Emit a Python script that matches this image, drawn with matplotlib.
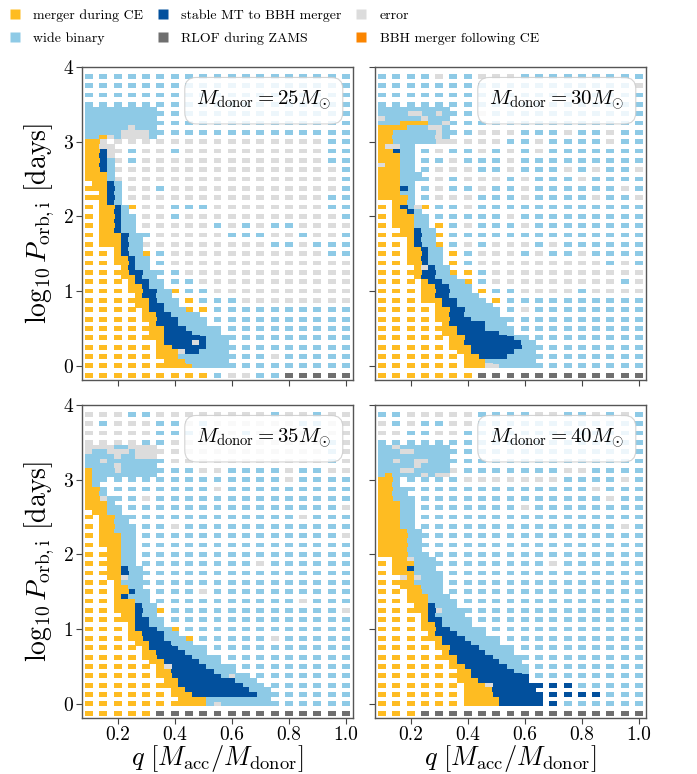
import matplotlib
matplotlib.use("Agg")
import matplotlib.pyplot as plt
from matplotlib.lines import Line2D
from matplotlib.patches import Rectangle
from matplotlib.collections import PatchCollection

plt.rcParams['font.family'] = 'serif'
plt.rcParams['font.serif'] = ['cmr10']
plt.rcParams['mathtext.fontset'] = 'cm'
plt.rcParams['axes.formatter.use_mathtext'] = True

# ---------------- grid definition ----------------
Q_MIN = 0.1            # first mass-ratio column
Q_STEP = 0.025         # fine q step (coarse = 2 * fine)
L_COARSE_TOP = 3.875   # top coarse log10 P row
L_FINE_TOP = 3.4375    # top fine log10 P row
L_STEP = 0.0625        # fine log10 P step (coarse = 2 * fine)

categories = ['y', 'b', 'd', 'r', 'g', 'o']
category_labels = ['merger during CE', 'wide binary', 'stable MT to BBH merger',
                   'RLOF during ZAMS', 'error', 'BBH merger following CE']
category_colors = {'y': '#FEBC22', 'b': '#8ECAE6', 'd': '#02509D',
                   'g': '#DCDCDC', 'r': '#6F6F6F', 'o': '#FB8500'}

donor_masses = [25, 30, 35, 40]

# coarse grid: rows from logP=3.875 down to -0.125 (step 0.125), columns q=0.1..1.0 (step 0.05)
# fine grid: rows from logP=3.4375 down to 0.0 (step 0.0625), columns q=0.1.. (step 0.025); '.' = none
p25_coarse = [
    "bbbbbbbbbbbbbbbbbbb",  # 3.875
    "bbbbbbbbbbbbbbbbbbb",  # 3.75
    "bbbbbbbbbbbbbbbbbbb",  # 3.625
    "bbbbbbbbbbbbbbbbbbb",  # 3.5
    "bbbbbbbbbbbbbbbbbbb",  # 3.375
    "bbbbbbbbbbbbbbbbbbb",  # 3.25
    "bbbbbbbbbbbbbbbbbbb",  # 3.125
    "yygggggggggggggggbb",  # 3.0
    "yygbggbggggggggggbb",  # 2.875
    "yygbgggggggggggggbb",  # 2.75
    "yyggggggggggggggggb",  # 2.625
    "yyggggggggggggggggb",  # 2.5
    "yyyggbggggggggggggb",  # 2.375
    "yyyggggggggggggggbb",  # 2.25
    "yyyyggbbbggggggggbb",  # 2.125
    "yyyyggbgggggggggggb",  # 2.0
    "yyyygggggbgbgbbgggg",  # 1.875
    "yyyybgggggbbbggbggb",  # 1.75
    "yyyygggggggggbbgbbb",  # 1.625
    "yyyyybgggggggggggbb",  # 1.5
    "yyyyybggggggggggggg",  # 1.375
    "yyyyybbgggggggggggg",  # 1.25
    "yyyyyybbggggggggggg",  # 1.125
    "yyyyyyybbgggggggggg",  # 1.0
    "yyyyyyyybbbgggggggg",  # 0.875
    "yyyyyyyyybbbbbbbbbb",  # 0.75
    "yyyyyyyyybbbbbbbbbb",  # 0.625
    "yyyyyyyyybbbbbbbbbb",  # 0.5
    "yyyyyyyyybbbbbbbbbb",  # 0.375
    "yyyyyyyyybbbbbbbbbb",  # 0.25
    "yyyyyyyyybbbbgbbbbb",  # 0.125
    "yyyyyyyyybbbbbbbbbb",  # 0.0
    "yyyyyyyyybggbbrrrrr",  # -0.125
]
p25_fine = [
    "bbbbbbbbbb",            # 3.4375
    "bbbbbbbbbb",            # 3.375
    "bbbbbbbbbb",            # 3.3125
    "bbbbbbbbbb",            # 3.25
    "bbbbbbgbbb",            # 3.1875
    "bbbbbggggb",            # 3.125
    "bbygbggggb",            # 3.0625
    "yyg",                   # 3.0
    "yygg",                  # 2.9375
    "yydg",                  # 2.875
    "yydg",                  # 2.8125
    "yydb",                  # 2.75
    "yydb",                  # 2.6875
    "yydb",                  # 2.625
    "yyyb",                  # 2.5625
    ".yyb",                  # 2.5
    ".yydb",                 # 2.4375
    ".yydb",                 # 2.375
    "..ydb",                 # 2.3125
    ".yydb",                 # 2.25
    "..ydb",                 # 2.1875
    "..yydb",                # 2.125
    "..yydb",                # 2.0625
    "..yydbb",               # 2.0
    "..yydbb",               # 1.9375
    "..yydbb",               # 1.875
    "..yydbb",               # 1.8125
    "..yyydbb",              # 1.75
    "..yyydbb",              # 1.6875
    "...yydbb",              # 1.625
    "....ydbb",              # 1.5625
    "....ydbb",              # 1.5
    "....yydbb",             # 1.4375
    "....yydbb",             # 1.375
    ".....ydbb",             # 1.3125
    ".....yddbb",            # 1.25
    ".....yydbb",            # 1.1875
    "......yddbb",           # 1.125
    "......yydbb",           # 1.0625
    "......yyddbb",          # 1.0
    ".......yddbb",          # 0.9375
    ".......yydbbb",         # 0.875
    ".......yyddbb",         # 0.8125
    "........yddbbb",        # 0.75
    "........yyddbbbb",      # 0.6875
    "........yydddbbbb",     # 0.625
    ".........ydddbbbb",     # 0.5625
    ".........yydddbbbbb",   # 0.5
    ".........yyddddbbbb",   # 0.4375
    ".........yyddddddbbb",  # 0.375
    "..........yddddgdbbb",  # 0.3125
    "..........yydddddbbb",  # 0.25
    "..........yyygddbbbb",  # 0.1875
    "..........yyybbbbbbb",  # 0.125
    "...........yyybbbbbb",  # 0.0625
    "..........yyyyybbbbb",  # 0.0
]

p30_coarse = [
    "bbbbgbbgggbbbbbbbbb",  # 3.875
    "bbbbbbbbbbbbbbbbbbg",  # 3.75
    "bbbbbbbbbbbbbbbbbbb",  # 3.625
    "bbbbbbbbbbbbbbbbbbb",  # 3.5
    "bbbbbbbgbbbbbbbbbbb",  # 3.375
    "bbbbbbbbbbbbbbbbbbb",  # 3.25
    "yybbbbbgggbbbgbbgbb",  # 3.125
    "yyyybbgggbbgbbbbgbb",  # 3.0
    "yyybgbbgbgbgbbbbbbb",  # 2.875
    "yyybbgbbbgbbbbbbbbb",  # 2.75
    "yyybgggbbgbbbgbgbbg",  # 2.625
    "yyybgbgggbgbbbgbbbb",  # 2.5
    "yyybgbbgbbgbbbbbbgb",  # 2.375
    "yyybgggbbbgbbbbgbbg",  # 2.25
    "yyyybbgbbbbbbbbbbbb",  # 2.125
    "yyyybbbbbgbbbbbbbbb",  # 2.0
    "yyyyybgbbbgbbbbbbbb",  # 1.875
    "yyyyybbbbbbbbbbbbbb",  # 1.75
    "yyyyybgbgggbgbbbbbb",  # 1.625
    "yyyyyybgggbgbbgbbbb",  # 1.5
    "yyyyyybgggggggggbgb",  # 1.375
    "yyyyyyybggggggggggg",  # 1.25
    "yyyyyyybgggggggggbg",  # 1.125
    "yyyyyyyybbggggbgggg",  # 1.0
    "yyyyyyyyybbbbbbbbbb",  # 0.875
    "yyyyyyyybbgbbbbbbbb",  # 0.75
    "yyyyyyyyybbbbbbbbbb",  # 0.625
    "yyyyyyyyybbbbbbbbbb",  # 0.5
    "yyyyyyyyybbbbbbbbbb",  # 0.375
    "yyyyyyyyybbbbbbbbbb",  # 0.25
    "yyyyyyyyybbbbbbbbbb",  # 0.125
    "yyyyyyyybbbbbbbbbbb",  # 0.0
    "yyyyyyyrrrrrrrrrrrr",  # -0.125
]
p30_fine = [
    "bbbbbbbbbb",              # 3.4375
    "bbbbggbbgb",              # 3.375
    "gbbbbbgbbb",              # 3.3125
    "bbbyyyybbg",              # 3.25
    "yyyybbbggb",              # 3.1875
    "yybbbbbbgb",              # 3.125
    "yybbbbbbgb",              # 3.0625
    "yybbbbbbggg",             # 3.0
    "yggbb",                   # 2.9375
    "yydbb",                   # 2.875
    "yyybb",                   # 2.8125
    "yyybb",                   # 2.75
    "gyybb",                   # 2.6875
    "yyybb",                   # 2.625
    "yyybbb",                  # 2.5625
    ".yybbb",                  # 2.5
    "yyybb",                   # 2.4375
    ".yydb",                   # 2.375
    "yyybb",                   # 2.3125
    ".yyyb",                   # 2.25
    "..yyb",                   # 2.1875
    "..ydbg",                  # 2.125
    "..yydb",                  # 2.0625
    "..yyybb",                 # 2.0
    "..yyybb",                 # 1.9375
    "..yyybb",                 # 1.875
    "...yydbb",                # 1.8125
    "...yydbb",                # 1.75
    "....ydbb",                # 1.6875
    "....ydbb",                # 1.625
    "....yydbb",               # 1.5625
    "....yydbb",               # 1.5
    "....yydbb",               # 1.4375
    "....yydbb",               # 1.375
    ".....ygdbb",              # 1.3125
    ".....yddbb",              # 1.25
    ".....yddbbb",             # 1.1875
    "......yddbbb",            # 1.125
    "......yyddbbb",           # 1.0625
    "......yyddbbb",           # 1.0
    "......yyddbbbb",          # 0.9375
    ".......yyddbbbb",         # 0.875
    "........yddbbbbb",        # 0.8125
    "........yyddbbbb",        # 0.75
    "........yyddbbbbb",       # 0.6875
    "........yydddbbbbb",      # 0.625
    ".........ydddddbbb",      # 0.5625
    ".........yyddddbbbb",     # 0.5
    ".........yyddddddbb",     # 0.4375
    "..........yydddddddb",    # 0.375
    "..........yyddddddddbb",  # 0.3125
    "...........yydddddddbb",  # 0.25
    "...........yyddddddbbb",  # 0.1875
    "............yyddddbbbb",  # 0.125
    "............yyybbbbbbb",  # 0.0625
    "............yyyggbbbbb",  # 0.0
]

p35_coarse = [
    "gggbbggggggggbggbgg",  # 3.875
    "gbgggbbgbggggggbbgg",  # 3.75
    "gggggbbbgggbggggggg",  # 3.625
    "ggggbbgggggggggggbg",  # 3.5
    "gggggggggggggggggbg",  # 3.375
    "bbbbbbgggggggggggbg",  # 3.25
    "ybbbbbbbggbbbbgbbgg",  # 3.125
    "ybbbbbbbbbbbbbgbbbb",  # 3.0
    "ybbbbbbbbgbbbbbbbbb",  # 2.875
    "yybbgbbbbbbbbbbbbbb",  # 2.75
    "yybbbbbbbbbbbbbbbbg",  # 2.625
    "yybbbbbbbbbbbbbgbbb",  # 2.5
    "yybbbbgbbbbbbbbbbbb",  # 2.375
    "yyybbbbbbbbbbbbbbbg",  # 2.25
    "yyybbbbbbbbbbbbbbbb",  # 2.125
    "yyybbbbbbbbbbbbbbbb",  # 2.0
    "yyyybbbbbbbbgbbbbbb",  # 1.875
    "yyyybbbbbbbbbbbbbbb",  # 1.75
    "yyyybbbbbbbbbbbbbbb",  # 1.625
    "yyyyybbbgbbbbbbbbbb",  # 1.5
    "yyyyybbbbbbbbbbgbbb",  # 1.375
    "yyyyyybbbbbbbbbbbbg",  # 1.25
    "yyyyyybbbbbbbbbbbbb",  # 1.125
    "yyyyyyybbbbbbbbbbbb",  # 1.0
    "yyyyyyyybbbbbgbbbbb",  # 0.875
    "yyyyyyyybbbbbbbbbbb",  # 0.75
    "yyyyyyyyybbbbbbbbbb",  # 0.625
    "yyyyyyyyyybbbbbbbbb",  # 0.5
    "yyyyyyyyyybbbbbbbbb",  # 0.375
    "yyyyyyyyyyybbbbbbbb",  # 0.25
    "yyyyyyyyyyyybbbbbbb",  # 0.125
    "yyyyyyygbbbbbbbbbbb",  # 0.0
    "yyyyyrrrrrrrrrrrrrr",  # -0.125
]
p35_fine = [
    "ggggbbgggg",                  # 3.4375
    "gbbgggbggg",                  # 3.375
    "bbbbgbbggg",                  # 3.3125
    "bbgbbbbbbb",                  # 3.25
    "bbbbgbbbbb",                  # 3.1875
    "ybbbgbbbbb",                  # 3.125
    "ybbbbbbbbb",                  # 3.0625
    "yb",                          # 3.0
    "yb",                          # 2.9375
    "yyb",                         # 2.875
    "yyb",                         # 2.8125
    "yygb",                        # 2.75
    "yyyb",                        # 2.6875
    ".yybb",                       # 2.625
    ".yybb",                       # 2.5625
    "..yybb",                      # 2.5
    "..yybb",                      # 2.4375
    "..yybb",                      # 2.375
    "..yybbb",                     # 2.3125
    "..yyybb",                     # 2.25
    "..yyybb",                     # 2.1875
    "...yybb",                     # 2.125
    "...yybb",                     # 2.0625
    "...yybb",                     # 2.0
    "...yybb",                     # 1.9375
    "...yybb",                     # 1.875
    "...yydbb",                    # 1.8125
    "...yydbb",                    # 1.75
    "...yygbb",                    # 1.6875
    "....ybbb",                    # 1.625
    "....yybb",                    # 1.5625
    "....yydbb",                   # 1.5
    "....ydbbb",                   # 1.4375
    "....yyybb",                   # 1.375
    "....yyydbb",                  # 1.3125
    ".....yydbb",                  # 1.25
    ".....yydbb",                  # 1.1875
    ".....yyddbb",                 # 1.125
    "......yddbb",                 # 1.0625
    "......ydddbb",                # 1.0
    "......yydddbb",               # 0.9375
    ".......ydddbbb",              # 0.875
    ".......yydddbbb",             # 0.8125
    "........yddddbbb",            # 0.75
    "........yyddddbbb",           # 0.6875
    ".........ydddddbbb",          # 0.625
    ".........yydddddbbb",         # 0.5625
    "..........ygdddddbbb",        # 0.5
    "..........yyddddddbbb",       # 0.4375
    "...........ydddddddbgbb",     # 0.375
    "...........yyddddddddbbb",    # 0.3125
    "...........yydddddddddbbb",   # 0.25
    "............yydddddddddbbb",  # 0.1875
    "............yyydddddddddbb",  # 0.125
    ".............yyyybbbbbbbbb",  # 0.0625
    ".............yyyybgbbbbbbb",  # 0.0
]

p40_coarse = [
    "bbgggggbbbbggbbgbgb",  # 3.875
    "gbgbbggbbbbbbbbbbbb",  # 3.75
    "ggbbggbbbbbbbbbbbbb",  # 3.625
    "bbbbbbbbbbbbbbbbbbb",  # 3.5
    "bbbbbbbbbbbbbbbbbbb",  # 3.375
    "bbbbbbbbbbbbbbbbbbb",  # 3.25
    "bbbbbgbbbbbbbggbbbb",  # 3.125
    "yybbbbgggggggbbbbgb",  # 3.0
    "yybbbbbbbbbbbbbgbbb",  # 2.875
    "yybbbbbbbbbbbbbbgbb",  # 2.75
    "yybbbbbbbbgbbbbbbbb",  # 2.625
    "yybbbbbbbbbbbbbbbbb",  # 2.5
    "yybbbbbbbbbbbbbbbgb",  # 2.375
    "yyybbbbbbbbbbbbbbbb",  # 2.25
    "yyybbbbbbbbbbbbbbbb",  # 2.125
    "yyybbbbbbbbbbbbbbbb",  # 2.0
    "yyybbbbbbbbbgbbbbbb",  # 1.875
    "yyyybbbbbbbbbbbbbbb",  # 1.75
    "yyyybbbbbbbbbbbbbbb",  # 1.625
    "yyyyybbbbbbbbbbbbbb",  # 1.5
    "yyyyybbbbbbbbbbbbbb",  # 1.375
    "yyyyyybbbbbbbbbbbbb",  # 1.25
    "yyyyyybbbbbbbbbbbbb",  # 1.125
    "yyyyyyybbbbbbbbbbbb",  # 1.0
    "yyyyyyybbbbbbbbbbbb",  # 0.875
    "yyyyyyyybbbbbbbbbbb",  # 0.75
    "yyyyyyyybbbbbbbbbbb",  # 0.625
    "yyyyyyyyybbbbbbbbbb",  # 0.5
    "yyyyyyyyyydbbbbbbbb",  # 0.375
    "yyyyyyyyyyydddbbbbb",  # 0.25
    "yyyyyyyyyyyyddddbbb",  # 0.125
    "yyyyyyyyyyyydbbbbbb",  # 0.0
    "yyyrrrrrrrrrrrrrrrr",  # -0.125
]
p40_fine = [
    "bbgbbbbbbb",               # 3.4375
    "bbbggbbbbb",               # 3.375
    "bbbbbbbbbb",               # 3.3125
    "bbgbbggbbb",               # 3.25
    "bbbbbgbbbb",               # 3.1875
    "bbbggbbbbb",               # 3.125
    "bybbbbgbgg",               # 3.0625
    "yyb",                      # 3.0
    "yyb",                      # 2.9375
    "yybb",                     # 2.875
    "yybb",                     # 2.8125
    "yybb",                     # 2.75
    "yyybb",                    # 2.6875
    "yyybb",                    # 2.625
    "yyybb",                    # 2.5625
    "yyybb",                    # 2.5
    "yyybb",                    # 2.4375
    "yyybb",                    # 2.375
    "yyyybb",                   # 2.3125
    "yyyybb",                   # 2.25
    "yyyybb",                   # 2.1875
    "yyyybb",                   # 2.125
    "yyyybb",                   # 2.0625
    "yyyybbb",                  # 2.0
    "..yygbbb",                 # 1.9375
    "..yyybbb",                 # 1.875
    "..yydbbb",                 # 1.8125
    "..yyybbb",                 # 1.75
    "...gygbbb",                # 1.6875
    "...yybbbb",                # 1.625
    "...yyybbb",                # 1.5625
    "....yybbb",                # 1.5
    "....yyybbb",               # 1.4375
    "....yyybbb",               # 1.375
    ".....yydbbb",              # 1.3125
    ".....yydgbbb",             # 1.25
    "......ydbbbb",             # 1.1875
    "......yddbbbb",            # 1.125
    "......yydbbbb",            # 1.0625
    ".......yddbbbb",           # 1.0
    ".......ydddbbbb",          # 0.9375
    ".......yydddbbbb",         # 0.875
    "........yddddbbbb",        # 0.8125
    "........yyddddbbbb",       # 0.75
    ".........ydddddbbbb",      # 0.6875
    ".........yydddddbbbb",     # 0.625
    "..........yddddddbbb",     # 0.5625
    "..........yyddddddbbb",    # 0.5
    "...........yyddddddbb",    # 0.4375
    "...........yydddddddd",    # 0.375
    "...........yyyddddddd",    # 0.3125
    "............yyygdddddd",   # 0.25
    "............yyyydddddd",   # 0.1875
    "............yyyyddddddd",  # 0.125
    "............yyyyydddddd",  # 0.0625
    ".............yyyydddddd",  # 0.0
]

panels = [(p25_coarse, p25_fine), (p30_coarse, p30_fine),
          (p35_coarse, p35_fine), (p40_coarse, p40_fine)]

CELL_W = 0.028
CELL_H = 0.064


def draw_grid(ax, coarse, fine):
    cells = {}
    for i, row in enumerate(coarse):
        r = 2 * i                       # fine-row index counted from top coarse row
        for c, ch in enumerate(row):
            if ch != '.':
                cells[(r, 2 * c)] = ch
    offset = int(round((L_COARSE_TOP - L_FINE_TOP) / L_STEP))
    for j, row in enumerate(fine):
        r = offset + j
        for k, ch in enumerate(row):
            if ch != '.':
                cells[(r, k)] = ch
    rects, cols = [], []
    for (r, k), ch in cells.items():
        q = Q_MIN + k * Q_STEP
        L = L_COARSE_TOP - r * L_STEP
        rects.append(Rectangle((q - CELL_W / 2, L - CELL_H / 2), CELL_W, CELL_H))
        cols.append(category_colors[ch])
    pc = PatchCollection(rects, facecolors=cols, edgecolors='none',
                         antialiased=False, zorder=2)
    ax.add_collection(pc)


fig = plt.figure(figsize=(6.97, 7.74), dpi=100)
W, H = 697, 774
ax_w, ax_h = 271 / W, 313 / H
positions = [(82 / W, 1 - 380 / H), (375 / W, 1 - 380 / H),
             (82 / W, 1 - 718 / H), (375 / W, 1 - 718 / H)]

for idx, ((coarse, fine), mass, pos) in enumerate(zip(panels, donor_masses, positions)):
    ax = fig.add_axes([pos[0], pos[1], ax_w, ax_h])
    draw_grid(ax, coarse, fine)
    ax.set_xlim(0.075, 1.025)
    ax.set_ylim(-0.19, 4.0)
    ax.set_xticks([0.2, 0.4, 0.6, 0.8, 1.0])
    ax.set_yticks([0, 1, 2, 3, 4])
    ax.tick_params(labelsize=14, length=4, width=0.8, color='#444444', pad=2)
    for s in ax.spines.values():
        s.set_color('#555555')
        s.set_linewidth(1.0)
    if idx in (0, 1):
        ax.set_xticklabels([])
    else:
        ax.set_xticklabels(['0.2', '0.4', '0.6', '0.8', '1.0'])
        ax.set_xlabel(r'$q\ [M_{\rm acc}/M_{\rm donor}]$', fontsize=19, labelpad=-1)
    if idx in (1, 3):
        ax.set_yticklabels([])
    else:
        ax.set_ylabel(r'$\log_{10} P_{\rm orb,i}\ [{\rm days}]$', fontsize=20, labelpad=4)
    ax.text(0.92, 0.93, r'$M_{\rm donor} = %d M_{\odot}$' % mass,
            transform=ax.transAxes, ha='right', va='top', fontsize=15, zorder=5,
            bbox=dict(boxstyle='round,pad=0.55', facecolor='white',
                      edgecolor='#cccccc', alpha=0.85, linewidth=0.8))

handles = [Line2D([], [], marker='s', linestyle='None', markersize=7.5,
                  markerfacecolor=category_colors[c], markeredgecolor='none')
           for c in categories]
fig.legend(handles, category_labels, loc='upper left', bbox_to_anchor=(0.0, 1.0),
           ncol=3, frameon=False, fontsize=10, handlelength=0.8,
           handletextpad=0.9, columnspacing=1.05, labelspacing=0.75,
           borderaxespad=0.25)

fig.savefig('out.png', dpi=100)
